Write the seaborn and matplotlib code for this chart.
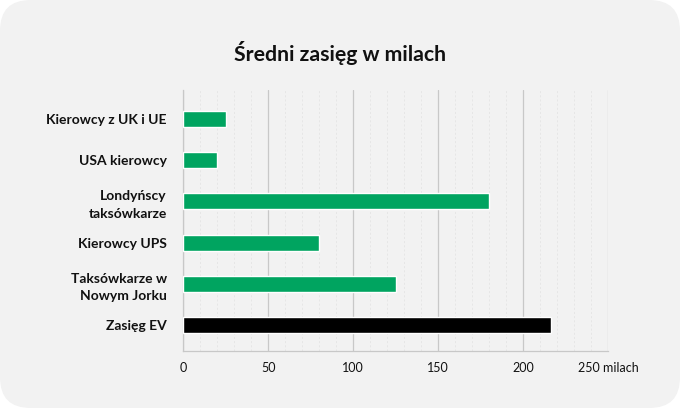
import matplotlib
matplotlib.use("Agg")
import matplotlib.pyplot as plt
from matplotlib.patches import FancyBboxPatch
from matplotlib.ticker import MultipleLocator
import pandas as pd
import seaborn as sns

# Data
categories = ["Kierowcy z UK i UE", "USA kierowcy", "Londyńscy\ntaksówkarze",
              "Kierowcy UPS", "Taksówkarze w\nNowym Jorku", "Zasięg EV"]
ranges = [25, 20, 180, 80, 125, 216]
bar_colors = ["#00a460", "#00a460", "#00a460", "#00a460", "#00a460", "#000000"]
x_ticks = [0, 50, 100, 150, 200, 250]
x_tick_labels = ["0", "50", "100", "150", "200", "250 milach"]

df = pd.DataFrame({"kategoria": categories, "zasieg": ranges})

sns.set_style("white")
plt.rcParams["font.family"] = ["Lato", "DejaVu Sans"]

fig = plt.figure(figsize=(6.8, 4.08), dpi=100)
fig.patch.set_facecolor("white")

# rounded card background
card = FancyBboxPatch((0.0, 0.0), 1.0, 1.0,
                      boxstyle="round,pad=0,rounding_size=0.045",
                      transform=fig.transFigure, facecolor="#f2f2f2",
                      edgecolor="none", zorder=-5,
                      mutation_aspect=680 / 408)
fig.patches.append(card)

ax = fig.add_axes([0.2696, 0.1397, 0.625, 0.6397])
ax.set_facecolor("none")
ax.set_zorder(2)

sns.barplot(data=df, y="kategoria", x="zasieg", hue="kategoria",
            palette=bar_colors, legend=False, width=0.39, saturation=1,
            orient="h", ax=ax, zorder=3)

ax.set_xlim(0, 250)
ax.set_ylim(5.63, -0.70)
ax.set_xticks(x_ticks)
ax.set_xticklabels(x_tick_labels, fontsize=9, color="#111111")
ax.xaxis.set_minor_locator(MultipleLocator(10))
ax.grid(True, axis="x", which="major", color="#c8c8c8", linewidth=0.9, zorder=0)
ax.grid(True, axis="x", which="minor", color="#e2e2e2", linewidth=0.5,
        linestyle=(0, (3, 3)), zorder=0)
ax.set_axisbelow(True)
ax.tick_params(axis="x", which="both", length=0, pad=8)
ax.tick_params(axis="y", length=0, pad=12)
for lbl in ax.get_yticklabels():
    lbl.set_fontweight("bold")
    lbl.set_fontsize(10)
    lbl.set_color("#111111")
    lbl.set_horizontalalignment("right")
    lbl.set_linespacing(1.55)
ax.set_xlabel("")
ax.set_ylabel("")

for side in ["top", "right"]:
    ax.spines[side].set_visible(False)
for side in ["left", "bottom"]:
    ax.spines[side].set_color("#c8c8c8")
    ax.spines[side].set_linewidth(0.9)

fig.text(0.5, 0.87, "Średni zasięg w milach", ha="center", va="center",
         fontsize=15.3, fontweight="bold", color="#111111")

fig.savefig("out.png", dpi=100, facecolor=fig.get_facecolor())
